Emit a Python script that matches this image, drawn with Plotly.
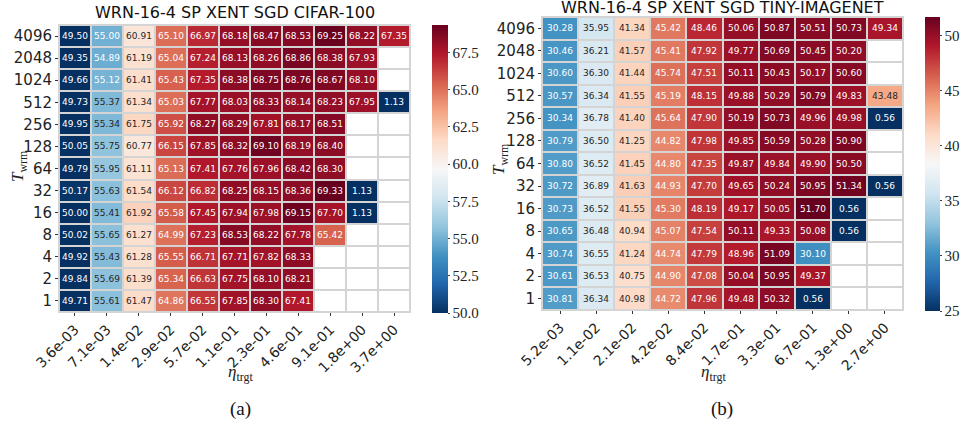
import numpy as np
import plotly.graph_objects as go

W, H = 961, 427

# T_wrm rows, top to bottom
rows = ["4096", "2048", "1024", "512", "256", "128", "64", "32", "16", "8", "4", "2", "1"]

# (a) CIFAR-100
lr_a = ["3.6e-03", "7.1e-03", "1.4e-02", "2.9e-02", "5.7e-02", "1.1e-01",
        "2.3e-01", "4.6e-01", "9.1e-01", "1.8e+00", "3.7e+00"]
acc_a = [
    [49.50, 55.00, 60.91, 65.10, 66.97, 68.18, 68.47, 68.53, 69.25, 68.22, 67.35],
    [49.35, 54.89, 61.19, 65.04, 67.24, 68.13, 68.26, 68.86, 68.38, 67.93, None],
    [49.66, 55.12, 61.41, 65.43, 67.35, 68.38, 68.75, 68.76, 68.67, 68.10, None],
    [49.73, 55.37, 61.34, 65.03, 67.77, 68.03, 68.33, 68.14, 68.23, 67.95, 1.13],
    [49.95, 55.34, 61.75, 65.92, 68.27, 68.29, 67.81, 68.17, 68.51, None, None],
    [50.05, 55.75, 60.77, 66.15, 67.85, 68.32, 69.10, 68.19, 68.40, None, None],
    [49.79, 55.95, 61.11, 65.13, 67.41, 67.76, 67.96, 68.42, 68.30, None, None],
    [50.17, 55.63, 61.54, 66.12, 66.82, 68.25, 68.15, 68.36, 69.33, 1.13, None],
    [50.00, 55.41, 61.92, 65.58, 67.45, 67.94, 67.98, 69.15, 67.70, 1.13, None],
    [50.02, 55.65, 61.27, 64.99, 67.23, 68.53, 68.22, 67.78, 65.42, None, None],
    [49.92, 55.43, 61.28, 65.55, 66.71, 67.71, 67.82, 68.33, None, None, None],
    [49.84, 55.69, 61.39, 65.34, 66.63, 67.75, 68.10, 68.21, None, None, None],
    [49.71, 55.61, 61.47, 64.86, 66.55, 67.85, 68.30, 67.41, None, None, None],
]

# (b) TINY-IMAGENET
lr_b = ["5.2e-03", "1.1e-02", "2.1e-02", "4.2e-02", "8.4e-02", "1.7e-01",
        "3.3e-01", "6.7e-01", "1.3e+00", "2.7e+00"]
acc_b = [
    [30.28, 35.95, 41.34, 45.42, 48.46, 50.06, 50.87, 50.51, 50.73, 49.34],
    [30.46, 36.21, 41.57, 45.41, 47.92, 49.77, 50.69, 50.45, 50.20, None],
    [30.60, 36.30, 41.44, 45.74, 47.51, 50.11, 50.43, 50.17, 50.60, None],
    [30.57, 36.34, 41.55, 45.19, 48.15, 49.88, 50.29, 50.79, 49.83, 43.48],
    [30.34, 36.78, 41.40, 45.64, 47.90, 50.19, 50.73, 49.96, 49.98, 0.56],
    [30.79, 36.50, 41.25, 44.82, 47.98, 49.85, 50.59, 50.28, 50.90, None],
    [30.80, 36.52, 41.45, 44.80, 47.35, 49.87, 49.84, 49.90, 50.50, None],
    [30.72, 36.89, 41.63, 44.93, 47.70, 49.65, 50.24, 50.95, 51.34, 0.56],
    [30.73, 36.52, 41.55, 45.30, 48.19, 49.17, 50.05, 51.70, 0.56, None],
    [30.65, 36.48, 40.94, 45.07, 47.54, 50.11, 49.33, 50.08, 0.56, None],
    [30.74, 36.55, 41.24, 44.74, 47.79, 48.96, 51.09, 30.10, None, None],
    [30.61, 36.53, 40.75, 44.90, 47.08, 50.04, 50.95, 49.37, None, None],
    [30.81, 36.34, 40.98, 44.72, 47.96, 49.48, 50.32, 0.56, None, None],
]

# matplotlib RdBu_r
rdbu = ['#67001f', '#b2182b', '#d6604d', '#f4a582', '#fddbc7', '#f7f7f7',
        '#d1e5f0', '#92c5de', '#4393c3', '#2166ac', '#053061'][::-1]
cscale = [[i / (len(rdbu) - 1), c] for i, c in enumerate(rdbu)]

GRID = "#d4d4d4"
SANS = "DejaVu Sans"
SERIF = "Liberation Serif"


def px_x(v):
    return v / W


def px_y(v):
    return 1 - v / H


fig = go.Figure()


def add_panel(n, xs, z, vmin, vmax, box, cb_x, cb_thick, cb_ticks):
    z = np.array([[np.nan if v is None else v for v in r] for r in z], dtype=float)
    xa = "x" if n == 1 else f"x{n}"
    ya = "y" if n == 1 else f"y{n}"
    # white base so empty cells are white, gaps grey
    fig.add_trace(go.Heatmap(
        z=np.ones_like(z), x=xs, y=rows, xaxis=xa, yaxis=ya,
        colorscale=[[0, "white"], [1, "white"]], showscale=False,
        xgap=2, ygap=2, hoverinfo="skip"))
    norm = (z - vmin) / (vmax - vmin)
    light = (norm < 0.27) | (norm > 0.70)
    for mask, tc, show in ((light, "white", True), (~light, "#262626", False)):
        zz = np.where(mask, z, np.nan)
        zz_list = [[None if np.isnan(v) else v for v in r] for r in zz]
        fig.add_trace(go.Heatmap(
            z=zz_list, x=xs, y=rows, xaxis=xa, yaxis=ya,
            zmin=vmin, zmax=vmax, colorscale=cscale,
            xgap=2, ygap=2, texttemplate="%{z:.2f}",
            textfont=dict(size=9, color=tc, family=SANS),
            showscale=show,
            colorbar=dict(
                x=cb_x, xanchor="left", y=px_y(box[1]), yanchor="top",
                len=box[3] - box[1] + 1, lenmode="pixels",
                thickness=cb_thick, outlinewidth=0, xpad=0, ypad=0,
                ticks="outside", ticklen=2, tickcolor="#444",
                tickvals=cb_ticks[0], ticktext=cb_ticks[1],
                tickfont=dict(family=SERIF, size=15, color="#222"),
            ) if show else None,
        ))
    ax = dict(type="category", showgrid=False, zeroline=False, automargin=False,
              showline=True, linecolor=GRID, linewidth=1, mirror=True,
              ticks="outside", ticklen=3, tickcolor="#333")
    fig.update_layout(**{
        ("xaxis" if n == 1 else f"xaxis{n}"): dict(
            ax, domain=[px_x(box[0]), px_x(box[2])], anchor=ya,
            tickangle=-45, tickfont=dict(family=SANS, size=14, color="#222")),
        ("yaxis" if n == 1 else f"yaxis{n}"): dict(
            ax, domain=[px_y(box[3]), px_y(box[1])], anchor=xa,
            autorange="reversed", tickfont=dict(family=SANS, size=15, color="#222")),
    })


cb_a = [50.0, 52.5, 55.0, 57.5, 60.0, 62.5, 65.0, 67.5]
cb_b = [25, 30, 35, 40, 45, 50]
add_panel(1, lr_a, acc_a, 50.0, 69.33, (59, 25, 410, 312), px_x(432), 16,
          (cb_a, [f"{v:.1f}" for v in cb_a]))
add_panel(2, lr_b, acc_b, 25.0, 51.70, (542, 17, 903, 310), px_x(925), 15,
          (cb_b, [str(v) for v in cb_b]))

ann = []


def label(text, x, y, size, family, angle=0, color="#222"):
    ann.append(dict(text=text, x=px_x(x), y=px_y(y), xref="paper", yref="paper",
                    xanchor="center", yanchor="middle", showarrow=False,
                    textangle=angle, font=dict(family=family, size=size, color=color)))


label("WRN-16-4 SP XENT SGD CIFAR-100", 235, 12, 16, SANS, color="#111")
label("WRN-16-4 SP XENT SGD TINY-IMAGENET", 722, 7, 16, SANS, color="#111")
for lx, ly in ((19, 166), (500, 159)):
    label("<i>T</i><sub>wrm</sub>", lx, ly, 17, SERIF, angle=-90)
for lx in (240, 713):
    label("<i>η</i><sub>trgt</sub>", lx, 373, 17, SERIF)
label("(a)", 240, 409, 19, SERIF, color="#111")
label("(b)", 722, 409, 19, SERIF, color="#111")

fig.update_layout(
    width=W, height=H,
    margin=dict(l=0, r=0, t=0, b=0, autoexpand=False),
    paper_bgcolor="white", plot_bgcolor=GRID,
    annotations=ann,
)

# drop the page's default body margin so the figure sits at the window origin
fig.write_html("out.html", config={"displayModeBar": False},
               post_script="document.body.style.margin='0';"
                           "document.body.style.overflow='hidden';")
